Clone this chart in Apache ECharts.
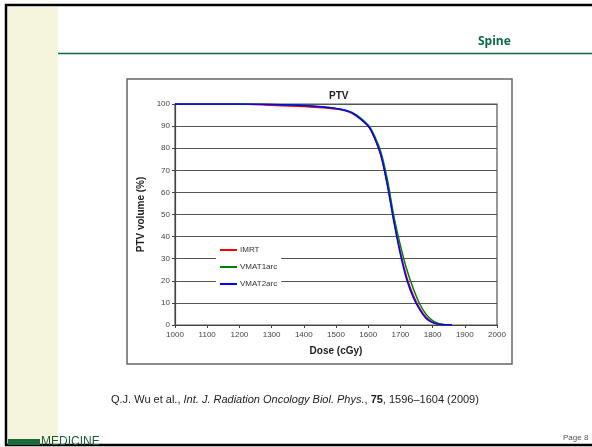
<!DOCTYPE html>
<html>
<head>
<meta charset="utf-8">
<script src="https://cdn.jsdelivr.net/npm/echarts@6/dist/echarts.min.js"></script>
<style>
html,body{margin:0;padding:0;background:#fff;}
#main{width:592px;height:447px;}
</style>
</head>
<body>
<div id="main"></div>
<script>
// dose points (cGy) shared by all curves
var doses = [1000,1100,1200,1300,1400,1500,1550,1600,1620,1640,1660,1680,1700,1720,1740,1760,1780,1800,1820,1840,1860];
// PTV volume (%) per plan
var imrt     = [100,100,100,99.4,98.9,97.7,95.8,90,84.5,76.5,63.5,47,33,21.5,13.5,7.5,3.5,1.2,0.3,0.1,0];
var vmat1arc = [100,100,100,99.8,99.3,98,96.2,90.5,85.5,78,65.5,49,36,25,16.5,9.5,4.8,2,0.6,0.1,0];
var vmat2arc = [100,100,100,99.8,99.3,98,96,90,84.5,76.5,63,46.5,32,20.4,12.5,7,3,1.1,0.4,0.1,0];
var names = ['IMRT','VMAT1arc','VMAT2arc'];
var colors = ['#ff0000','#008000','#0000ff'];

function pairs(vals){
	var out=[];
	for(var i=0;i<doses.length;i++){ out.push([doses[i],vals[i]]); }
	return out;
}

var chart=echarts.init(document.getElementById('main'));
var option={
	color: colors,
	animation:false,
	backgroundColor:'#fff',
	title:{
		text:'PTV',
		left:324, top:86,
		textStyle:{fontFamily:'Liberation Sans',fontSize:10,fontWeight:'bold',color:'#222'}
	},
	legend:{
		orient:'vertical',
		left:216, top:243,
		itemWidth:17, itemHeight:2,
		itemGap:9,
		backgroundColor:'#fff',
		padding:[3,4,3,4],
		icon:'rect',
		textStyle:{fontFamily:'Liberation Sans',fontSize:8,color:'#333',padding:[0,0,0,-2]},
		data:names
	},
	grid:{
		left:175, right:95, top:104, bottom:122,
		show:true, borderColor:'#555', borderWidth:1.2
	},
	xAxis:{
		type:'value', min:1000, max:2000, interval:100,
		name:'Dose (cGy)', nameLocation:'middle', nameGap:21,
		nameTextStyle:{fontFamily:'Liberation Sans',fontSize:10,fontWeight:'bold',color:'#222'},
		axisLine:{lineStyle:{color:'#444',width:1.2}},
		axisTick:{show:true,length:3,lineStyle:{color:'#444'}},
		axisLabel:{fontFamily:'Liberation Sans',fontSize:8,color:'#444',margin:6,formatter:function(v){return String(v);}},
		splitLine:{show:false}
	},
	yAxis:{
		type:'value', min:0, max:100, interval:10,
		name:'PTV volume (%)', nameLocation:'middle', nameGap:24, nameRotate:90,
		nameTextStyle:{fontFamily:'Liberation Sans',fontSize:10,fontWeight:'bold',color:'#222'},
		axisLine:{show:true,lineStyle:{color:'#444',width:1.2}},
		axisTick:{show:true,length:3,lineStyle:{color:'#444'}},
		axisLabel:{fontFamily:'Liberation Sans',fontSize:8,color:'#444',margin:5},
		splitLine:{show:true,lineStyle:{color:'#555',width:1.2}}
	},
	series:[
		{name:names[0],type:'line',data:pairs(imrt),smooth:0.25,showSymbol:false,lineStyle:{width:1.5}},
		{name:names[1],type:'line',data:pairs(vmat1arc),smooth:0.25,showSymbol:false,lineStyle:{width:1.5}},
		{name:names[2],type:'line',data:pairs(vmat2arc),smooth:0.25,showSymbol:false,lineStyle:{width:1.5}}
	],
	graphic:[
		// slide frame and side strip
		{type:'rect',z:-10,shape:{x:8,y:7,width:50,height:437},style:{fill:'#f5f4dc'}},
		{type:'rect',z:-5,shape:{x:6,y:5,width:590,height:440},style:{fill:'none',stroke:'#000',lineWidth:2.5}},
		{type:'line',shape:{x1:58,y1:53.5,x2:592,y2:53.5},style:{stroke:'#0a6b4a',lineWidth:1.5}},
		{type:'text',left:478,top:36,style:{text:'Spine',font:'bold 12px "Open Sans"',fill:'#0a6b4a'}},
		// chart frame
		{type:'rect',z:-4,shape:{x:127,y:79,width:385,height:285},style:{fill:'#fff',stroke:'#666',lineWidth:1.5}},
		// citation
		{type:'text',left:111,top:394,style:{
			text:'{n|Q.J. Wu et al., }{i|Int. J. Radiation Oncology Biol. Phys.}{n|, }{b|75}{n|, 1596–1604 (2009)}',
			rich:{
				n:{font:'11px "Liberation Sans"',fill:'#222'},
				i:{font:'italic 11px "Liberation Sans"',fill:'#222'},
				b:{font:'bold 11px "Liberation Sans"',fill:'#222'}
			}
		}},
		// footer
		{type:'rect',shape:{x:8,y:439,width:32,height:6},style:{fill:'#1b6b3a'}},
		{type:'text',left:41,top:436,style:{text:'MEDICINE',font:'12px "Liberation Sans"',fill:'#1b5b3a'}},
		{type:'text',left:563,top:434,style:{text:'Page 8',font:'8px "Liberation Sans"',fill:'#555'}}
	]
};
chart.setOption(option);
</script>
</body>
</html>
